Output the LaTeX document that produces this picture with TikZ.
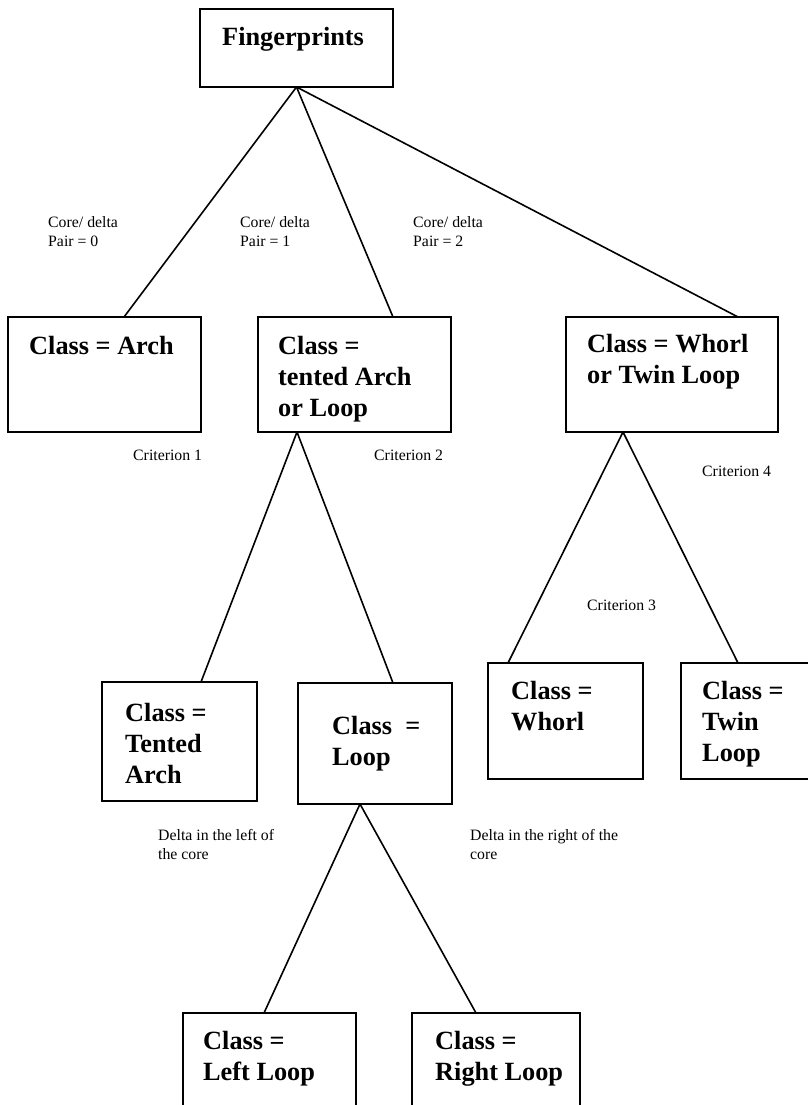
\documentclass[tikz,border=0pt]{standalone}
\usepackage{fontspec}
\setmainfont{Liberation Serif}
\begin{document}
\begin{tikzpicture}[x=1pt,y=-1pt,
  box/.style={draw,line width=1.6pt,rectangle,inner sep=0pt,outer sep=0pt,anchor=north west},
  btext/.style={inner sep=0pt,anchor=base west,align=left,font=\fontsize{26.3}{31}\selectfont\bfseries},
  lbl/.style={inner sep=0pt,anchor=base west,align=left,font=\fontsize{15.8}{19}\selectfont},
  conn/.style={line width=1.6pt}]
\path[use as bounding box] (0,0) rectangle (808,1105);
\clip (0,0) rectangle (808,1105);
% boxes
\node[box,minimum width=193pt,minimum height=78pt] (fp) at (200,9) {};
\node[box,minimum width=193pt,minimum height=115pt] (arch) at (8,317) {};
\node[box,minimum width=193pt,minimum height=115pt] (tol) at (258,317) {};
\node[box,minimum width=212pt,minimum height=115pt] (wtl) at (566,317) {};
\node[box,minimum width=155pt,minimum height=119pt] (ta) at (102,682) {};
\node[box,minimum width=154pt,minimum height=121pt] (loop) at (298,683) {};
\node[box,minimum width=155pt,minimum height=116pt] (wh) at (488,663) {};
\node[box,minimum width=140pt,minimum height=116pt] (tw) at (681,663) {};
\node[box,minimum width=173pt,minimum height=110pt] (ll) at (183,1013) {};
\node[box,minimum width=168pt,minimum height=110pt] (rl) at (412,1013) {};
% box texts (anchored at the baseline of the last line)
\node[btext] (tfp) at (222,46) {Fingerprints};
\node[btext] (tarch) at (29,354) {Class = Arch};
\node[btext] (ttol) at (278,416) {Class =\\tented Arch\\or Loop};
\node[btext] (twtl) at (587,383) {Class = Whorl\\or Twin Loop};
\node[btext] (tta) at (125,783) {Class =\\Tented\\Arch};
\node[btext] (tloop) at (332,765) {Class~~=\\Loop};
\node[btext] (twh) at (511,730) {Class =\\Whorl};
\node[btext] (ttw) at (702,761) {Class =\\Twin\\Loop};
\node[btext] (tll) at (203,1080) {Class =\\Left Loop};
\node[btext] (trl) at (435,1080) {Class =\\Right Loop};
% connectors
\draw[conn] (fp.south) -- ([xshift=116pt]arch.north west);
\draw[conn] (fp.south) -- ([xshift=135pt]tol.north west);
\draw[conn] (fp.south) -- ([xshift=172pt]wtl.north west);
\draw[conn] ([xshift=39pt]tol.south west) -- ([xshift=99pt]ta.north west);
\draw[conn] ([xshift=39pt]tol.south west) -- ([xshift=95pt]loop.north west);
\draw[conn] ([xshift=57pt]wtl.south west) -- ([xshift=20pt]wh.north west);
\draw[conn] ([xshift=57pt]wtl.south west) -- ([xshift=57pt]tw.north west);
\draw[conn] ([xshift=62pt]loop.south west) -- ([xshift=81pt]ll.north west);
\draw[conn] ([xshift=62pt]loop.south west) -- ([xshift=64pt]rl.north west);
% labels
\node[lbl] (l0) at (48,246) {Core/ delta\\Pair = 0};
\node[lbl] (l1) at (240,246) {Core/ delta\\Pair = 1};
\node[lbl] (l2) at (413,246) {Core/ delta\\Pair = 2};
\node[lbl] (c1) at (133,460) {Criterion 1};
\node[lbl] (c2) at (374,460) {Criterion 2};
\node[lbl] (c4) at (702,476) {Criterion 4};
\node[lbl] (c3) at (587,610) {Criterion 3};
\node[lbl] (dl) at (158,859) {Delta in the left of\\the core};
\node[lbl] (dr) at (470,859) {Delta in the right of the\\core};
\end{tikzpicture}
\end{document}
